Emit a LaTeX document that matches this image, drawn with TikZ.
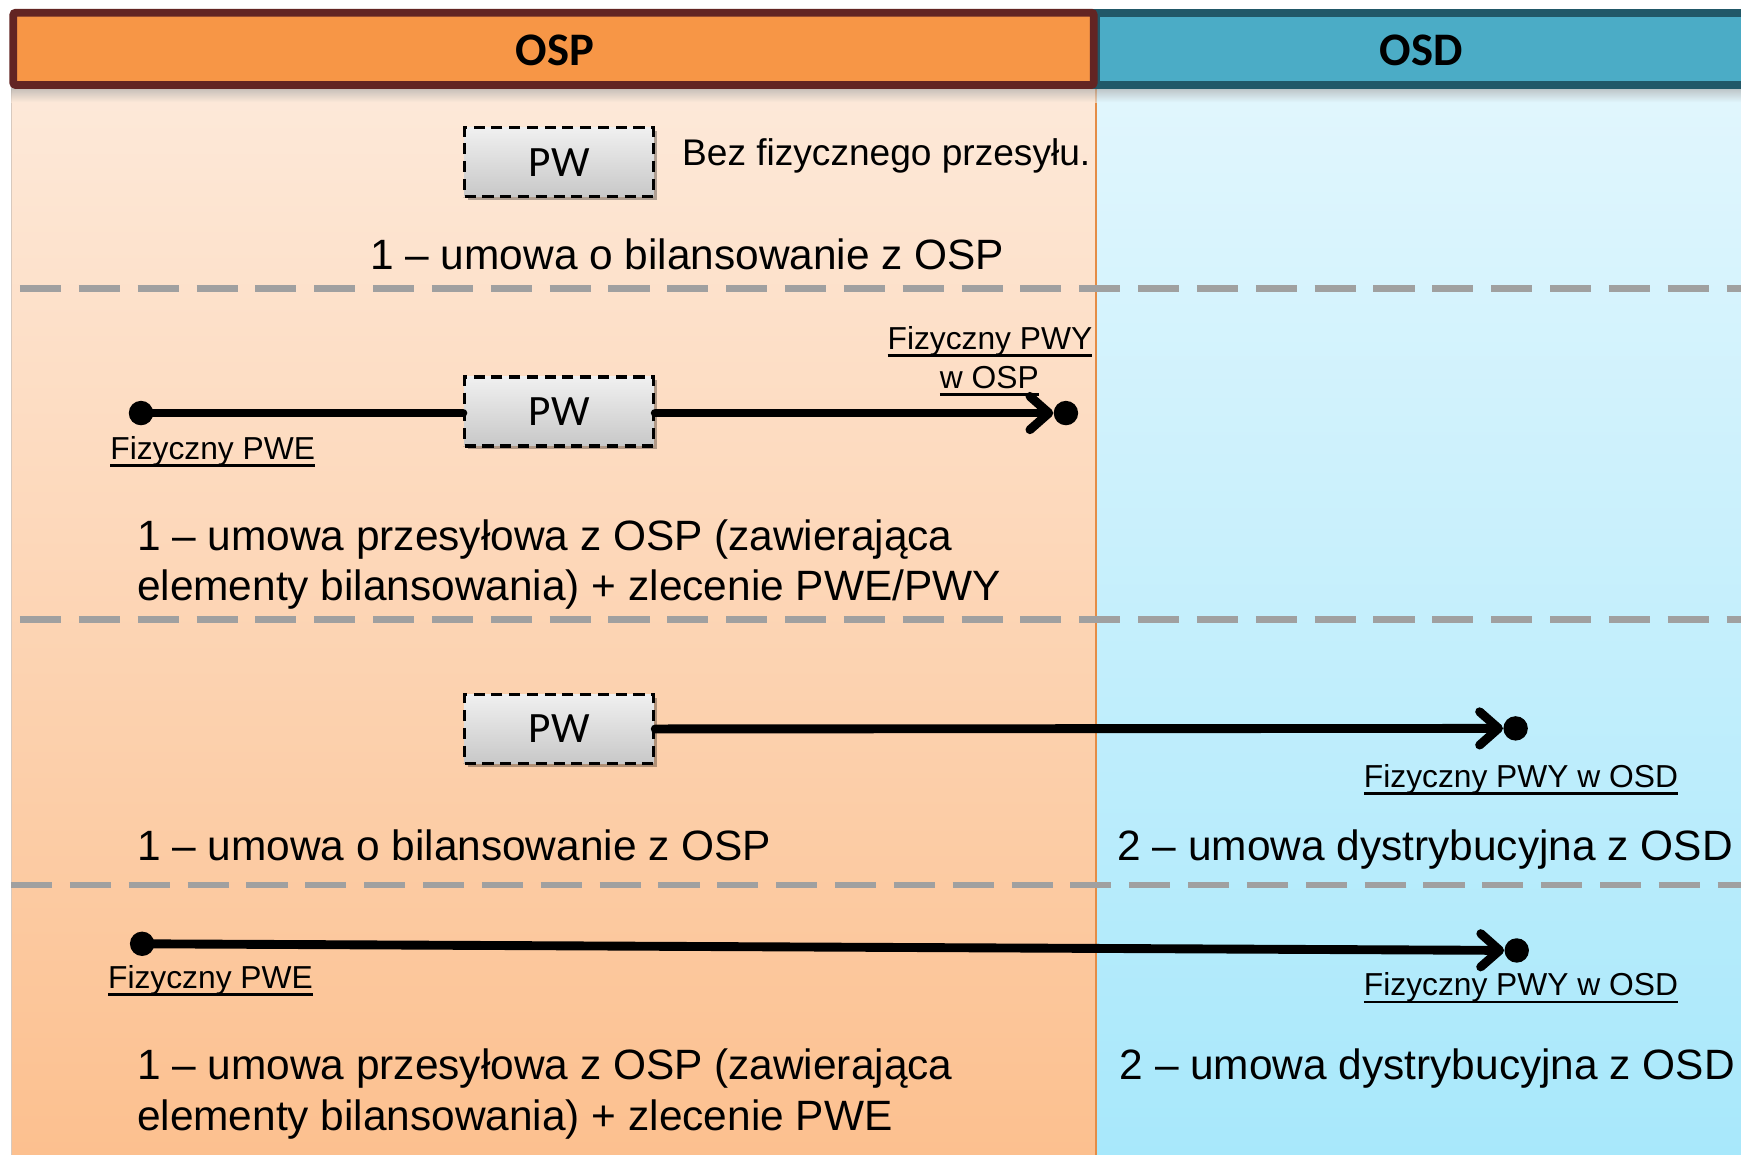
\documentclass[tikz,border=0pt]{standalone}
\usepackage{fontspec}
\setmainfont{Liberation Sans}
\newfontfamily\hdrfont{Carlito}
\usetikzlibrary{arrows.meta,shadows}
\definecolor{ospfill}{HTML}{F79646}
\definecolor{ospline}{HTML}{632523}
\definecolor{osdfill}{HTML}{4BACC6}
\definecolor{osdline}{HTML}{215868}
\definecolor{osptop}{RGB}{253,233,217}
\definecolor{ospbot}{RGB}{252,192,143}
\definecolor{osdtop}{RGB}{225,246,253}
\definecolor{osdbot}{RGB}{168,232,251}
\definecolor{boxtop}{RGB}{240,240,240}
\definecolor{boxbot}{RGB}{200,200,200}
\definecolor{sepgray}{RGB}{160,160,160}
\definecolor{divline}{RGB}{228,140,70}
\newlength\myulwd
\newcommand\myul[1]{\settowidth\myulwd{#1}\rlap{\rule[-3.3pt]{\myulwd}{1.2pt}}#1}
\begin{document}
\begin{tikzpicture}[x=0.5pt,y=-0.5pt,
  pwbox/.style={draw=black, line width=1.6pt, dash pattern=on 5pt off 3pt,
    top color=boxtop, bottom color=boxbot, minimum width=85pt, minimum height=31pt,
    inner sep=0pt, font=\hdrfont\fontsize{19.5}{22}\selectfont,
    drop shadow={shadow xshift=1.5pt, shadow yshift=-1.5pt, opacity=0.3, fill=black}},
  enddot/.style={circle, fill=black, inner sep=0pt, minimum size=11pt},
  conn/.style={line width=4pt, line cap=round},
  arr/.style={conn, -{Straight Barb[length=8.5pt,width=15pt,round]}},
  sepline/.style={draw=sepgray, line width=3pt, dash pattern=on 18.5pt off 8pt},
  bigtxt/.style={anchor=base west, inner sep=0pt, font=\fontsize{19.1}{22}\selectfont},
  midtxt/.style={anchor=base west, inner sep=0pt, font=\fontsize{16.7}{20}\selectfont},
  smalltxt/.style={anchor=base west, inner sep=0pt, font=\fontsize{14.3}{17}\selectfont},
  hdrtxt/.style={inner sep=0pt, font=\hdrfont\bfseries\fontsize{21}{24}\selectfont}
]
\useasboundingbox (0,0) rectangle (1568,1040);
\clip (0,0) rectangle (1568,1040);
% column bodies
\shade[top color=osptop, bottom color=ospbot] (10,80) rectangle (987,1040);
\shade[top color=osdtop, bottom color=osdbot] (987,80) rectangle (1575,1040);
\draw[divline, line width=0.7pt] (987,80) -- (987,1040);
\draw[osptop!70!gray, line width=0.5pt] (10,80) -- (10,1040);
% header shadow
\shade[top color=black!35, bottom color=osptop, opacity=0.6] (10,80) rectangle (987,92);
\shade[top color=black!35, bottom color=osdtop, opacity=0.6] (987,80) rectangle (1575,92);
% headers
\draw[fill=osdfill, draw=osdline, line width=3.5pt] (987,11.5) rectangle (1585,76.5);
\draw[fill=ospfill, draw=ospline, line width=3.5pt, rounded corners=1pt] (12,11.5) rectangle (985,76.5);
\node[hdrtxt] (hosp) at (500,45) {OSP};
\node[hdrtxt] (hosd) at (1280,45) {OSD};
% separators
\draw[sepline] (18,260) -- (1575,260);
\draw[sepline] (18,558) -- (1575,558);
\draw[sepline] (10,797) -- (1575,797);
% section 1
\node[pwbox] (pw1) at (503.5,146) {PW};
\node[midtxt] (t1a) at (614,149) {Bez fizycznego przesyłu.};
\node[bigtxt] (t1b) at (333,243) {1 – umowa o bilansowanie z OSP};
% section 2
\node[pwbox] (pw2) at (503.5,370.5) {PW};
\node[enddot] (d2a) at (127,372) {};
\node[enddot] (d2b) at (960,372) {};
\draw[conn] (d2a.center) -- (pw2.west |- d2a.center);
\draw[arr] (pw2.east |- d2b.center) -- (d2b);
\node[smalltxt] (l2a) at (99,414) {\myul{Fizyczny PWE}};
\node[smalltxt] (l2b) at (799,315) {\myul{Fizyczny PWY}};
\node[smalltxt, anchor=base] (l2c) at (891,350) {\myul{w OSP}};
\node[bigtxt] (t2a) at (123,496) {1 – umowa przesyłowa z OSP (zawierająca};
\node[bigtxt] (t2b) at (123,541) {elementy bilansowania) + zlecenie PWE/PWY};
% section 3
\node[pwbox] (pw3) at (503.5,656.5) {PW};
\node[enddot] (d3) at (1365,656) {};
\draw[arr] (pw3.east) -- (d3);
\node[smalltxt] (l3) at (1228,709) {\myul{Fizyczny PWY w OSD}};
\node[bigtxt] (t3a) at (123,775) {1 – umowa o bilansowanie z OSP};
\node[bigtxt] (t3b) at (1006,775) {2 – umowa dystrybucyjna z OSD};
% section 4
\node[enddot] (d4a) at (128,850) {};
\node[enddot] (d4b) at (1366,856) {};
\draw[arr] (d4a.center) -- (d4b);
\node[smalltxt] (l4a) at (97,890) {\myul{Fizyczny PWE}};
\node[smalltxt] (l4b) at (1228,897) {\myul{Fizyczny PWY w OSD}};
\node[bigtxt] (t4a) at (123,972) {1 – umowa przesyłowa z OSP (zawierająca};
\node[bigtxt] (t4b) at (123,1018) {elementy bilansowania) + zlecenie PWE};
\node[bigtxt] (t4c) at (1008,972) {2 – umowa dystrybucyjna z OSD};
\end{tikzpicture}
\end{document}
